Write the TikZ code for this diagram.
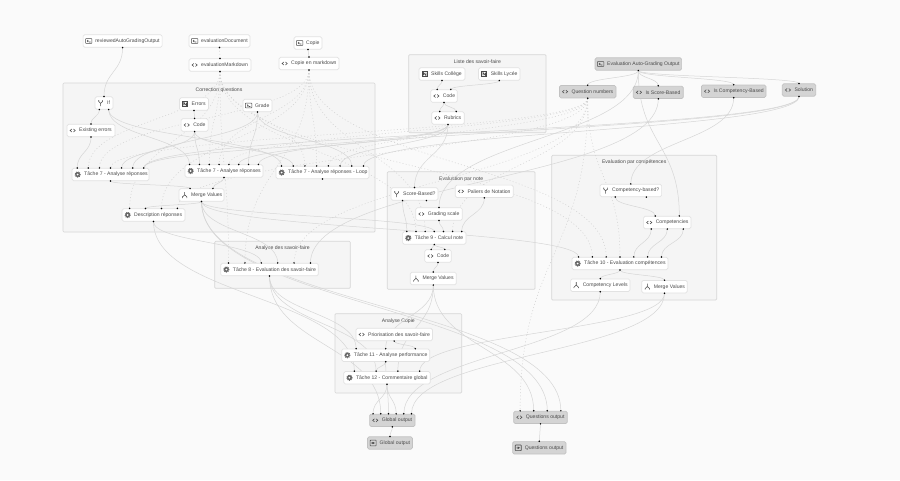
\documentclass[tikz,border=0pt]{standalone}
\usepackage{fontspec}
\setmainfont{Liberation Sans}
\usepackage{xcolor}
\usetikzlibrary{calc}
\definecolor{pagebg}{HTML}{FAFAFA}
\definecolor{panelbg}{HTML}{F5F5F5}
\definecolor{panelln}{HTML}{D6D6D6}
\definecolor{boxln}{HTML}{E2E2E2}
\definecolor{darkbg}{HTML}{D4D4D4}
\definecolor{darkln}{HTML}{C2C2C2}
\definecolor{wireln}{HTML}{D6D6D6}
\definecolor{dotln}{HTML}{D2D2D2}
\definecolor{txtc}{HTML}{4A4A4A}
\pgfdeclarelayer{bg}
\pgfdeclarelayer{edges}
\pgfsetlayers{bg,edges,main}
\tikzset{
  box/.style={draw=boxln,line width=.7pt,fill=white,rounded corners=1.5pt,minimum height=12.4pt,inner xsep=0pt,inner ysep=0pt,font=\fontsize{5.1}{6}\selectfont,text=txtc},
  dbox/.style={box,draw=darkln,fill=darkbg},
  panel/.style={draw=panelln,line width=.7pt,fill=panelbg,rounded corners=1pt,inner sep=0pt},
  paneltitle/.style={font=\fontsize{5.1}{6}\selectfont,text=txtc,inner sep=0pt},
  wire/.style={draw=wireln,line width=.5pt,to path={let \p1=(\tikztostart),\p2=(\tikztotarget) in .. controls (\x1,{0.5*(\y1+\y2)}) and (\x2,{0.5*(\y1+\y2)}) .. (\p2)}},
  dots/.style={wire,draw=dotln,dash pattern=on 1pt off 2.2pt},
  ico/.style={draw=txtc,line width=.55pt},
  icode/.pic={\draw[ico] (-.8,-1.5) -- (-2.6,0) -- (-.8,1.5) (.8,-1.5) -- (2.6,0) -- (.8,1.5);},
  iin/.pic={\draw[ico,rounded corners=.5pt] (-3.2,-2.4) rectangle (3.2,2.4);\draw[ico] (-1.6,-.9) -- (-.4,0) -- (-1.6,.9) (0,1) -- (1.8,1);},
  iout/.pic={\draw[ico,rounded corners=.5pt] (-3,-2.8) rectangle (3,2.8);\draw[ico] (-.6,-1) -- (1.2,0) -- (-.6,1) (-2,0) -- (1.2,0);},
  inotion/.pic={\draw[ico,line width=.8pt] (-2.6,-2.6) rectangle (2.6,2.6);\draw[ico,line width=.8pt] (-1.3,1.4) -- (-1.3,-1.4) -- (1.3,1.4) -- (1.3,-1.4);},
  isplit/.pic={\draw[ico] (0,3) -- (0,.3) -- (-1.9,-1.4) -- (-1.9,-3) (0,.3) -- (1.9,-1.4) -- (1.9,-3);},
  imerge/.pic={\draw[ico] (0,-3) -- (0,-.2) -- (-2.3,2) -- (-2.3,3) (0,-.2) -- (2.3,2) -- (2.3,3);},
  igear/.pic={\fill[txtc!85] (0,0) circle (2.5);\draw[txtc!85,line width=.8pt,dash pattern=on .9pt off .9pt] (0,0) circle (2.7);\fill[white] (0,0) circle (1);}
}
% handles along the top and the bottom of a block
\newcommand\ports[3]{%
  \ifnum#2>0 \foreach \i in {1,...,#2}{\coordinate (#1-t\i) at ($(#1.north west)!{(\i-0.5)/#2}!(#1.north east)$);\fill (#1-t\i) circle (.85);}\fi
  \ifnum#3>0 \foreach \i in {1,...,#3}{\coordinate (#1-b\i) at ($(#1.south west)!{(\i-0.5)/#3}!(#1.south east)$);\fill (#1-b\i) circle (.85);}\fi
}
% style, name, position, width, icon, text, top handles, bottom handles
\newcommand\block[8][box]{%
  \node[#1,minimum width=#4pt] (#2) at (#3) {\makebox[#4pt][l]{\hspace*{12.2pt}#6}};
  \pic at ($(#2.west)+(6,0)$) {#5};
  \ports{#2}{#7}{#8}
}
\newcommand\panelbox[6]{%
  \begin{pgfonlayer}{bg}
  \node[panel,minimum width={(#4-#2)*1pt},minimum height={(#5-#3)*1pt}] (#1) at ({(#2+#4)/2},{(#3+#5)/2}) {};
  \node[paneltitle] (#1-title) at ({(#2+#4)/2},#3+7.3) {#6};
  \end{pgfonlayer}
}
\begin{document}
\begin{tikzpicture}[x=1pt,y=-1pt]
\useasboundingbox (0,0) rectangle (900,480);
\begin{pgfonlayer}{bg}
\fill[pagebg] (0,0) rectangle (900,480);
\end{pgfonlayer}
% groups
\panelbox{corr}{63}{83}{375}{232}{Correction questions}
\panelbox{skills}{408.7}{54.7}{546}{132.7}{Liste des savoir-faire}
\panelbox{note}{387.3}{171.7}{535}{289.3}{Evaluation par note}
\panelbox{comp}{551.7}{155.3}{716.7}{300}{Evaluation par compétences}
\panelbox{ansf}{214.7}{241.3}{350.3}{288.3}{Analyse des savoir-faire}
\panelbox{copy}{335}{313.7}{461.7}{393}{Analyse Copie}
% blocks, top row
\block{rev}{122.6,41}{79}{iin}{reviewedAutoGradingOutput}{0}{1}
\block{edoc}{219.5,41}{61}{iin}{evaluationDocument}{0}{1}
\block{emd}{220,65}{62}{icode}{evaluationMarkdown}{1}{1}
\block{cop}{308,43}{28}{iin}{Copie}{0}{1}
\block{cmd}{309,63.5}{60}{icode}{Copie en markdown}{1}{1}
% correction questions
\block{cif}{104,103}{18}{isplit}{If}{1}{2}
\block{errs}{194,104}{29}{inotion}{Errors}{0}{1}
\block{ccode}{194.6,125}{27}{icode}{Code}{1}{1}
\block{grade}{257.5,105.5}{29}{iin}{Grade}{0}{1}
\block{xerr}{91,130.5}{48}{icode}{Existing errors}{1}{1}
\block{tl}{110.5,174.5}{77}{igear}{Tâche 7 - Analyse réponses}{7}{1}
\block{tm}{224,171}{78}{igear}{Tâche 7 - Analyse réponses}{8}{1}
\block{tx}{322.5,172.5}{93}{igear}{Tâche 7 - Analyse réponses - Loop}{8}{1}
\block{cmrg}{201.5,195}{45}{imerge}{Merge Values}{2}{1}
\block{desc}{153.5,215}{63}{igear}{Description réponses}{4}{1}
% liste des savoir-faire
\block{sco}{442,74}{46}{inotion}{Skills Collège}{0}{1}
\block{sly}{499.3,74}{41.5}{inotion}{Skills Lycée}{0}{1}
\block{scode}{444,96}{26.6}{icode}{Code}{2}{1}
\block{rub}{448,118}{32.4}{icode}{Rubrics}{2}{1}
% output of the auto grading
\block[dbox]{auto}{638.3,64}{86.6}{iin}{Evaluation Auto-Grading Output}{0}{1}
\block[dbox]{qnum}{587.7,91.7}{56.6}{icode}{Question numbers}{1}{1}
\block[dbox]{isc}{658.3,92.3}{50}{icode}{Is Score-Based}{1}{1}
\block[dbox]{ico}{733.7,91.2}{64.6}{icode}{Is Competency-Based}{1}{1}
\block[dbox]{sol}{799,90}{33.4}{icode}{Solution}{1}{1}
% evaluation par note
\block{nif}{414.5,194}{47}{isplit}{Score-Based?}{1}{2}
\block{pal}{484.3,191.3}{58}{icode}{Paliers de Notation}{0}{1}
\block{gsc}{439,214}{46.6}{icode}{Grading scale}{1}{1}
\block{tn}{434.3,238}{63.4}{igear}{Tâche 9 - Calcul note}{7}{1}
\block{ncode}{438,256}{26.6}{icode}{Code}{2}{1}
\block{nmrg}{433.3,278.5}{46}{imerge}{Merge Values}{1}{1}
% evaluation par competences
\block{kif}{630.8,190.5}{61.6}{isplit}{Competency-based?}{1}{2}
\block{kps}{667.3,222.5}{47.4}{icode}{Competencies}{2}{3}
\block{tk}{620,263.5}{96}{igear}{Tâche 10 - Evaluation compétences}{7}{1}
\block{klev}{600.3,285.2}{59.4}{imerge}{Competency Levels}{1}{1}
\block{kmrg}{664.5,286.7}{45.6}{imerge}{Merge Values}{1}{1}
% analyse
\block{ts}{269.5,269.5}{97.6}{igear}{Tâche 8 - Evaluation des savoir-faire}{6}{1}
\block{prio}{394.2,334.5}{76.4}{icode}{Priorisation des savoir-faire}{0}{1}
\block{tperf}{385.7,355.2}{88}{igear}{Tâche 11 - Analyse performance}{3}{1}
\block{tglob}{387,377.7}{86.4}{igear}{Tâche 12 - Commentaire global}{4}{1}
% outputs
\block[dbox]{gout}{392.3,420.3}{45.4}{icode}{Global output}{6}{1}
\block[dbox]{gend}{390,443}{45}{iout}{Global output}{1}{0}
\block[dbox]{qout}{540.5,417.3}{53.6}{icode}{Questions output}{4}{1}
\block[dbox]{qend}{539.3,447.8}{53.4}{iout}{Questions output}{1}{0}
\begin{pgfonlayer}{edges}
% plain connectors
\foreach \a/\b in {rev-b1/cif-t1,cop-b1/cmd-t1,cif-b1/xerr-t1,cif-b2/tm-t1,cif-b2/tx-t1,xerr-b1/tl-t1,errs-b1/ccode-t1,
  ccode-b1/tl-t5,ccode-b1/tm-t2,ccode-b1/tx-t2,grade-b1/tl-t6,grade-b1/tm-t7,grade-b1/tx-t7,
  rub-b1/tl-t7,rub-b1/tm-t6,rub-b1/tx-t6,sol-b1/tl-t7,sol-b1/tm-t8,sol-b1/tx-t8,
  tl-b1/cmrg-t1,tm-b1/cmrg-t2,cmrg-b1/desc-t2,cmrg-b1/ts-t4,cmrg-b1/tn-t4,cmrg-b1/tk-t1,
  cmrg-b1/qout-t3,cmrg-b1/qout-t4,desc-b1/ts-t3,desc-b1/tglob-t1,
  sco-b1/scode-t1,sly-b1/scode-t2,scode-b1/rub-t1,scode-b1/rub-t2,rub-b1/nif-t1,
  auto-b1/qnum-t1,auto-b1/isc-t1,auto-b1/ico-t1,auto-b1/sol-t1,auto-b1/gsc-t1,auto-b1/kps-t2,
  isc-b1/ts-t6,ico-b1/kif-t1,kif-b1/kps-t1,
  nif-b1/tn-t1,gsc-b1/tn-t5,pal-b1/tn-t7,tn-b1/ncode-t1,tn-b1/ncode-t2,ncode-b1/nmrg-t1,
  nmrg-b1/tperf-t2,nmrg-b1/tglob-t3,nmrg-b1/qout-t2,
  kps-b1/tk-t5,kps-b2/tk-t6,kps-b3/tk-t7,tk-b1/klev-t1,tk-b1/kmrg-t1,
  klev-b1/gout-t5,kmrg-b1/gout-t6,kmrg-b1/tglob-t4,
  ts-b1/tperf-t1,ts-b1/tglob-t2,ts-b1/gout-t2,
  prio-b1/tperf-t3,tperf-b1/tglob-t2,tperf-b1/gout-t3,
  tglob-b1/gout-t1,tglob-b1/gout-t4,gout-b1/gend-t1,qout-b1/qend-t1}
  \draw[wire] (\a) to (\b);
% dotted connectors
\foreach \a/\b in {edoc-b1/emd-t1,
  emd-b1/tl-t2,emd-b1/tm-t3,emd-b1/tx-t3,emd-b1/desc-t1,emd-b1/ts-t1,emd-b1/tn-t2,emd-b1/tk-t2,
  cmd-b1/tl-t3,cmd-b1/tm-t4,cmd-b1/tx-t4,cmd-b1/desc-t3,cmd-b1/ts-t2,cmd-b1/tn-t3,cmd-b1/tk-t3,
  qnum-b1/tl-t4,qnum-b1/tm-t5,qnum-b1/tx-t5,qnum-b1/desc-t4,qnum-b1/ts-t5,qnum-b1/tn-t6,qnum-b1/tk-t4,qnum-b1/qout-t1}
  \draw[dots] (\a) to (\b);
\end{pgfonlayer}
\end{tikzpicture}
\end{document}
